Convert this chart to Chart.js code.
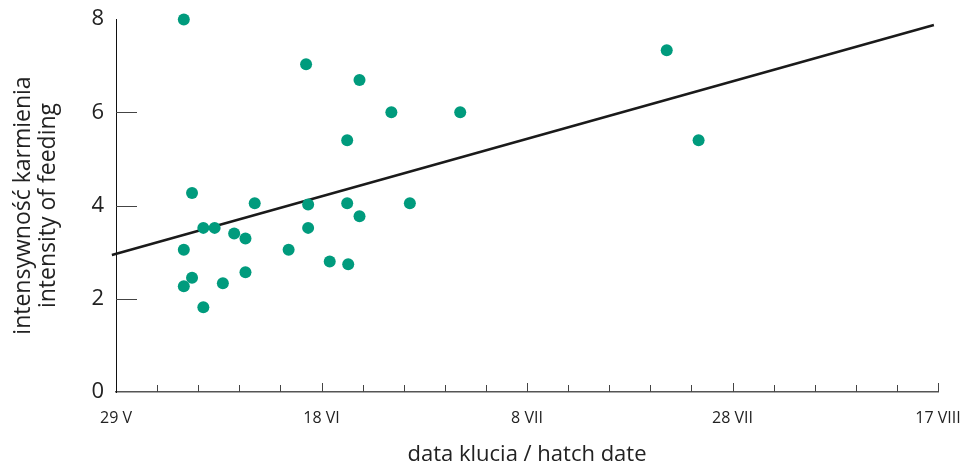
<!DOCTYPE html>
<html>
<head>
<meta charset="utf-8">
<script src="https://cdn.jsdelivr.net/npm/chart.js@4"></script>
<style>
  html, body { margin: 0; padding: 0; background: #fff; }
  #wrap { width: 960px; height: 466px; }
</style>
</head>
<body>
<div id="wrap"><canvas id="myChart"></canvas></div>
<script>
// days after 29 V (hatch date) and feeding intensity
var hatchDays = [6.6, 18.5, 23.7, 26.8, 33.5, 22.5, 7.4, 13.5, 18.7, 22.5, 28.6, 23.7, 8.5, 9.6,
                 18.7, 11.5, 12.6, 6.6, 16.8, 20.8, 22.6, 12.6, 7.4, 10.4, 6.6, 8.5, 53.6, 56.7];
var feeding   = [7.99, 7.03, 6.69, 6.00, 6.00, 5.40, 4.27, 4.05, 4.02, 4.05, 4.05, 3.77, 3.52, 3.52,
                 3.52, 3.40, 3.29, 3.05, 3.05, 2.80, 2.74, 2.57, 2.45, 2.33, 2.27, 1.82, 7.33, 5.40];

// regression line end points
var trendX = [-0.4, 79.6];
var trendY = [2.94, 7.87];

// axis labels
var xTickValues = [0, 20, 40, 60, 80];
var xTickLabels = ["29 V", "18 VI", "8 VII", "28 VII", "17 VIII"];
var yTickValues = [2, 4, 6];

var fontFamily = "'Open Sans', 'Noto Sans', sans-serif";

// small inward tick marks on both axes
var tickMarks = {
  id: 'tickMarks',
  beforeDatasetsDraw: function(chart) {
    var ctx = chart.ctx, x = chart.scales.x, y = chart.scales.y;
    ctx.save();
    ctx.strokeStyle = '#444';
    ctx.lineWidth = 1;
    ctx.beginPath();
    yTickValues.forEach(function(v){
      var py = Math.round(y.getPixelForValue(v)) + 0.5;
      ctx.moveTo(x.left, py);
      ctx.lineTo(x.left + 21, py);
    });
    for (var d = 4; d <= 80; d += 4) {
      var px = Math.round(x.getPixelForValue(d)) + 0.5;
      var len = (d % 20 === 0) ? 9 : 7;
      ctx.moveTo(px, y.bottom);
      ctx.lineTo(px, y.bottom - len);
    }
    ctx.stroke();
    ctx.restore();
  }
};

var points = hatchDays.map(function(d, i){ return {x: d, y: feeding[i]}; });
var trend = trendX.map(function(d, i){ return {x: d, y: trendY[i]}; });

new Chart("myChart", {
  type: "scatter",
  data: {
    datasets: [{
      data: points,
      backgroundColor: "#009b7d",
      borderWidth: 0,
      pointRadius: 6,
      clip: false,
      order: 0
    }, {
      type: "line",
      data: trend,
      borderColor: "#1a1a1a",
      borderWidth: 2.5,
      pointRadius: 0,
      fill: false,
      clip: false,
      order: 1
    }]
  },
  options: {
    responsive: true,
    maintainAspectRatio: false,
    animation: false,
    events: [],
    layout: { padding: { top: 19, right: 22, left: 0, bottom: 0 } },
    plugins: { legend: { display: false }, tooltip: { enabled: false } },
    scales: {
      x: {
        type: "linear",
        min: 0,
        max: 80,
        afterFit: function(s){ s.height = 74; s.paddingLeft = 0; s.paddingRight = 0; },
        afterBuildTicks: function(s){ s.ticks = xTickValues.map(function(v){ return {value: v}; }); },
        grid: { drawOnChartArea: false, drawTicks: false },
        border: { display: true, color: "#555", width: 1.5 },
        ticks: {
          padding: 17,
          maxRotation: 0,
          autoSkip: false,
          color: "#222",
          font: { family: fontFamily, size: 16 },
          callback: function(v){ var i = xTickValues.indexOf(v); return i >= 0 ? xTickLabels[i] : ""; }
        },
        title: {
          display: true,
          text: "data klucia / hatch date",
          color: "#222",
          font: { family: fontFamily, size: 22, lineHeight: 1.0 },
          padding: { top: 0, bottom: 0 }
        }
      },
      y: {
        min: 0,
        max: 8,
        afterFit: function(s){ s.width = 116; s.paddingTop = 0; s.paddingBottom = 0; },
        grid: { drawOnChartArea: false, drawTicks: false },
        border: { display: true, color: "#111", width: 1 },
        ticks: {
          stepSize: 2,
          padding: 12,
          color: "#222",
          font: { family: fontFamily, size: 22 }
        },
        title: {
          display: true,
          text: ["intensywność karmienia", "intensity of feeding"],
          color: "#222",
          font: { family: fontFamily, size: 23, lineHeight: 1.1 },
          padding: { top: 11, bottom: 0 }
        }
      }
    }
  },
  plugins: [tickMarks]
});
</script>
</body>
</html>
